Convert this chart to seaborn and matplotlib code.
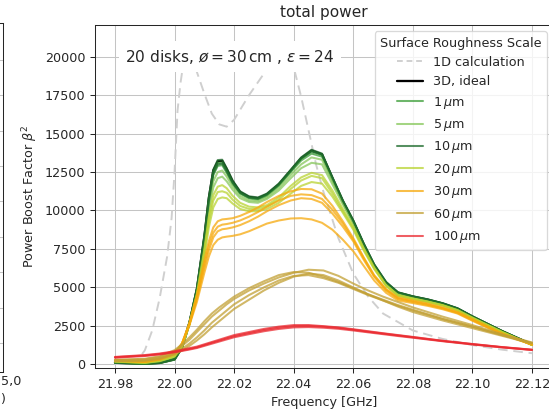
import numpy as np
import pandas as pd
import matplotlib
matplotlib.use("Agg")
import matplotlib.pyplot as plt
from matplotlib.lines import Line2D
import seaborn as sns

# ---- data -----------------------------------------------------------------
# dense sampling for the strongly structured (low roughness) spectra
freq_fine = [21.98, 21.99, 21.995, 22.0, 22.0025, 22.005, 22.0075, 22.01,
             22.0115, 22.013, 22.0145, 22.016, 22.0175, 22.0195, 22.022,
             22.025, 22.028, 22.031, 22.035, 22.039, 22.0425, 22.046, 22.0495,
             22.053, 22.0565, 22.06, 22.0635, 22.067, 22.071, 22.075, 22.08,
             22.085, 22.09, 22.095, 22.10, 22.11, 22.12]
# coarser sampling for the smooth (high roughness) spectra
freq_coarse = [21.98, 21.99, 21.995, 22.0, 22.0025, 22.005, 22.0075, 22.01,
               22.0125, 22.015, 22.0175, 22.02, 22.025, 22.03, 22.035, 22.04,
               22.045, 22.05, 22.055, 22.06, 22.065, 22.07, 22.075, 22.08,
               22.09, 22.10, 22.11, 22.12]

freq_1d = [21.98, 21.985, 21.9875, 21.99, 21.9925, 21.995, 21.9975, 21.999,
           22.0, 22.001, 22.002, 22.003, 22.0045, 22.006, 22.0075, 22.01,
           22.0125, 22.015, 22.0175, 22.02, 22.0225, 22.025, 22.03, 22.035,
           22.0375, 22.04, 22.0425, 22.045, 22.0475, 22.05, 22.055, 22.06,
           22.065, 22.07, 22.08, 22.09, 22.10, 22.11, 22.12]
boost_1d = [20, 80, 250, 900, 2200, 4300, 7000, 9500, 12500, 16500, 18300,
            19600, 20200, 19700, 19000, 17600, 16300, 15600, 15450, 15900,
            16700, 17500, 18900, 19900, 20200, 19300, 17400, 15200, 13000,
            11200, 8200, 5900, 4400, 3300, 2200, 1650, 1250, 950, 720]

ideal_3d = [100, 40, 90, 320, 1100, 2700, 4900, 8300, 10800, 12600, 13200,
            13230, 12700, 11900, 11200, 10880, 10800, 11050, 11700, 12600,
            13400, 13900, 13650, 12100, 10600, 9300, 7800, 6450, 5300, 4650,
            4400, 4200, 3950, 3620, 3100, 2150, 1280]

rough_1um = [
    [90, 30, 80, 300, 1050, 2600, 4800, 8200, 10700, 12500, 13100, 13120,
     12600, 11800, 11150, 10830, 10750, 11000, 11650, 12550, 13350, 13850,
     13600, 12050, 10550, 9250, 7750, 6400, 5250, 4620, 4380, 4180, 3930,
     3600, 3090, 2140, 1280],
    [110, 40, 100, 340, 1100, 2650, 4800, 8100, 10500, 12300, 12900, 12950,
     12450, 11700, 11100, 10780, 10700, 10950, 11600, 12500, 13250, 13700,
     13500, 12000, 10550, 9250, 7750, 6400, 5250, 4620, 4380, 4180, 3930,
     3600, 3090, 2140, 1280],
]
rough_5um = [
    [130, 60, 130, 390, 1150, 2700, 4800, 8000, 10300, 11900, 12500, 12600,
     12200, 11550, 10950, 10650, 10600, 10850, 11450, 12300, 13000, 13450,
     13300, 11900, 10500, 9200, 7750, 6400, 5250, 4600, 4350, 4150, 3900,
     3580, 3080, 2130, 1270],
    [150, 70, 150, 420, 1150, 2650, 4700, 7800, 10000, 11500, 12100, 12200,
     11900, 11350, 10800, 10550, 10500, 10750, 11300, 12100, 12750, 13100,
     13000, 11700, 10400, 9150, 7700, 6380, 5230, 4580, 4330, 4130, 3880,
     3560, 3060, 2120, 1270],
]
rough_10um = [
    [100, 40, 90, 320, 1100, 2700, 4950, 8350, 10850, 12650, 13280, 13300,
     12750, 11950, 11250, 10920, 10850, 11100, 11750, 12650, 13450, 13950,
     13700, 12150, 10650, 9350, 7850, 6500, 5350, 4680, 4420, 4220, 3970,
     3640, 3120, 2160, 1290],
    [120, 50, 110, 360, 1150, 2750, 4900, 8200, 10600, 12400, 13000, 13050,
     12550, 11800, 11150, 10850, 10780, 11050, 11700, 12600, 13400, 13850,
     13650, 12150, 10650, 9350, 7850, 6500, 5350, 4680, 4420, 4220, 3970,
     3640, 3120, 2160, 1290],
]
rough_20um = [
    [170, 90, 200, 500, 1150, 2650, 4600, 7500, 9600, 11000, 11550, 11650,
     11450, 10950, 10500, 10250, 10200, 10350, 10850, 11600, 12150, 12450,
     12300, 11300, 10100, 8950, 7550, 6300, 5150, 4500, 4280, 4080, 3850,
     3530, 3030, 2100, 1260],
    [200, 110, 250, 560, 1200, 2600, 4400, 7000, 8900, 10200, 10750, 10850,
     10800, 10450, 10100, 9950, 9950, 10100, 10500, 11100, 11600, 11850,
     11750, 10900, 9850, 8750, 7400, 6200, 5100, 4450, 4240, 4050, 3820,
     3500, 3010, 2090, 1260],
    [180, 100, 220, 520, 1150, 2600, 4500, 7300, 9300, 10650, 11200, 11250,
     11150, 10700, 10300, 10100, 10080, 10250, 10700, 11400, 11950, 12250,
     12100, 11100, 9950, 8850, 7480, 6250, 5120, 4470, 4260, 4060, 3830,
     3510, 3020, 2090, 1260],
]
rough_30um = [
    [220, 150, 300, 650, 1350, 2700, 4500, 6800, 8000, 8900, 9300, 9420,
     9450, 9500, 9650, 9900, 10200, 10550, 10950, 11250, 11400, 11380, 11100,
     10300, 9300, 8200, 6950, 5800, 4900, 4350, 4150, 3950, 3700, 3400, 2930,
     2000, 1300],
    [240, 160, 320, 680, 1350, 2650, 4350, 6500, 7700, 8550, 8950, 9080,
     9120, 9200, 9350, 9600, 9900, 10250, 10650, 10950, 11050, 11000, 10750,
     10050, 9150, 8100, 6900, 5750, 4850, 4300, 4100, 3900, 3660, 3370, 2900,
     1980, 1290],
    [260, 180, 350, 700, 1350, 2600, 4250, 6300, 7400, 8250, 8650, 8780,
     8820, 8900, 9050, 9300, 9600, 9950, 10350, 10650, 10800, 10750, 10500,
     9800, 8950, 8000, 6800, 5700, 4800, 4250, 4050, 3860, 3630, 3340, 2870,
     1960, 1290],
    [290, 200, 380, 720, 1350, 2550, 4050, 5950, 7000, 7750, 8100, 8250,
     8300, 8350, 8450, 8650, 8900, 9150, 9350, 9480, 9500, 9420, 9200, 8750,
     8100, 7350, 6400, 5450, 4650, 4150, 3980, 3800, 3580, 3300, 2830, 1940,
     1280],
]
rough_60um = [
    [260, 330, 480, 850, 1200, 1600, 2100, 2600, 3100, 3500, 3900, 4250, 4800,
     5250, 5650, 5950, 6150, 6100, 5750, 5250, 4800, 4400, 4050, 3700, 3100,
     2550, 1950, 1420],
    [300, 360, 520, 920, 1300, 1750, 2250, 2800, 3300, 3700, 4050, 4400, 4950,
     5400, 5800, 6000, 5950, 5700, 5350, 4950, 4550, 4200, 3850, 3550, 2950,
     2450, 1900, 1380],
    [220, 260, 400, 700, 1000, 1350, 1750, 2200, 2700, 3100, 3500, 3900, 4500,
     5000, 5450, 5750, 5800, 5600, 5300, 4900, 4500, 4150, 3800, 3500, 2950,
     2450, 1900, 1380],
    [200, 230, 350, 650, 900, 1200, 1550, 1950, 2400, 2800, 3200, 3600, 4200,
     4800, 5300, 5700, 5900, 5800, 5450, 5000, 4550, 4150, 3750, 3400, 2850,
     2350, 1850, 1350],
]
rough_100um = [
    [480, 600, 700, 850, 950, 1050, 1150, 1300, 1450, 1600, 1750, 1900, 2100,
     2300, 2450, 2550, 2550, 2480, 2400, 2280, 2150, 2020, 1900, 1780, 1530,
     1320, 1120, 950],
    [430, 540, 640, 780, 870, 960, 1060, 1200, 1340, 1480, 1620, 1760, 1960,
     2150, 2300, 2400, 2420, 2380, 2310, 2200, 2080, 1960, 1840, 1730, 1500,
     1290, 1100, 930],
    [460, 570, 670, 810, 900, 1000, 1100, 1250, 1400, 1540, 1690, 1830, 2030,
     2230, 2380, 2480, 2500, 2450, 2370, 2250, 2120, 2000, 1880, 1760, 1520,
     1310, 1110, 940],
]

roughness_labels = [r"1$\,\mu$m", r"5$\,\mu$m", r"10$\,\mu$m", r"20$\,\mu$m",
                    r"30$\,\mu$m", r"60$\,\mu$m", r"100$\,\mu$m"]
roughness_runs = [rough_1um, rough_5um, rough_10um, rough_20um, rough_30um,
                  rough_60um, rough_100um]
roughness_freqs = [freq_fine, freq_fine, freq_fine, freq_fine, freq_fine,
                   freq_coarse, freq_coarse]
roughness_colors = ["#3d9e3a", "#86c75a", "#1e6b2c", "#b9d332", "#f6a90c",
                    "#c2a034", "#ea2a30"]

x_ticks = [21.98, 22.00, 22.02, 22.04, 22.06, 22.08, 22.10, 22.12]
y_ticks = [0, 2500, 5000, 7500, 10000, 12500, 15000, 17500, 20000]

# ---- figure ---------------------------------------------------------------
sns.set_style("ticks", {"axes.grid": True, "grid.color": "#c4c4c4"})
plt.rcParams["font.family"] = ["DejaVu Sans"]
plt.rcParams["lines.solid_joinstyle"] = "round"
plt.rcParams["lines.solid_capstyle"] = "round"

W, H, DPI = 549, 412, 92
fig = plt.figure(figsize=(W / DPI, H / DPI), dpi=DPI)

# neighbouring panel, only its right edge falls inside the canvas
ax0 = fig.add_axes([-0.3, 1 - 372 / H, 0.3 + 3 / W, (372 - 23) / H])
ax0.set_xlim(0, 1)
ax0.set_ylim(-0.82, 9.04)
ax0.set_yticks(range(9))
ax0.set_xticks([])
ax0.tick_params(left=False, labelleft=False)
ax0.grid(True, color="#c4c4c4")
for s in ax0.spines.values():
    s.set_color("0.15")
fig.text(0.5 / W, 1 - 381 / H, "5,0", ha="left", va="center", fontsize=10,
         color="0.15")
fig.text(0.5 / W, 1 - 399 / H, ")", ha="left", va="center", fontsize=10,
         color="0.15")

ax = fig.add_axes([95 / W, 1 - 368 / H, 458 / W, 343 / H])

sns.lineplot(x=freq_1d, y=boost_1d, ax=ax, color="#cfcfcf", lw=1.5,
             linestyle=(0, (5, 3)), legend=False)
sns.lineplot(x=freq_fine, y=ideal_3d, ax=ax, color="black", lw=1.8,
             legend=False)

handles = [
    Line2D([], [], color="#cfcfcf", lw=1.5, linestyle=(0, (3, 2)),
           label="1D calculation"),
    Line2D([], [], color="black", lw=1.8, label="3D, ideal"),
]
for label, runs, fgrid, color in zip(roughness_labels, roughness_runs,
                                     roughness_freqs, roughness_colors):
    df = pd.DataFrame({
        "freq": np.tile(fgrid, len(runs)),
        "boost": np.concatenate(runs),
        "run": np.repeat(np.arange(len(runs)), len(fgrid)),
    })
    sns.lineplot(data=df, x="freq", y="boost", units="run", estimator=None,
                 ax=ax, color=color, lw=1.6, alpha=0.75, legend=False)
    handles.append(Line2D([], [], color=color, lw=1.6, alpha=0.75,
                          label=label))

ax.set_xlim(21.97329, 22.12705)
ax.set_ylim(-240, 22060)
ax.set_xticks(x_ticks)
ax.set_xticklabels([f"{t:.2f}" for t in x_ticks])
ax.set_yticks(y_ticks)
ax.set_yticklabels([str(t) for t in y_ticks])
ax.tick_params(labelsize=10, colors="0.15", length=4)
for s in ax.spines.values():
    s.set_color("0.15")

ax.set_title("total power", fontsize=12, color="0.15")
ax.set_xlabel("Frequency [GHz]", fontsize=10, color="0.15")
ax.set_ylabel(r"Power Boost Factor $\beta^2$", fontsize=10, color="0.15")

ax.text(21.9834, 20000,
        r"20 disks, $\o = 30\,\mathrm{cm}$ , $\varepsilon = 24$",
        ha="left", va="center", fontsize=12, color="0.15", zorder=4,
        bbox=dict(facecolor="white", edgecolor="none", pad=5))

leg = ax.legend(handles=handles, title="Surface Roughness Scale",
                loc="upper right", fontsize=10, title_fontsize=10,
                frameon=True)
leg.get_frame().set_edgecolor("#d0d0d0")

fig.savefig("out.png", dpi=DPI)
